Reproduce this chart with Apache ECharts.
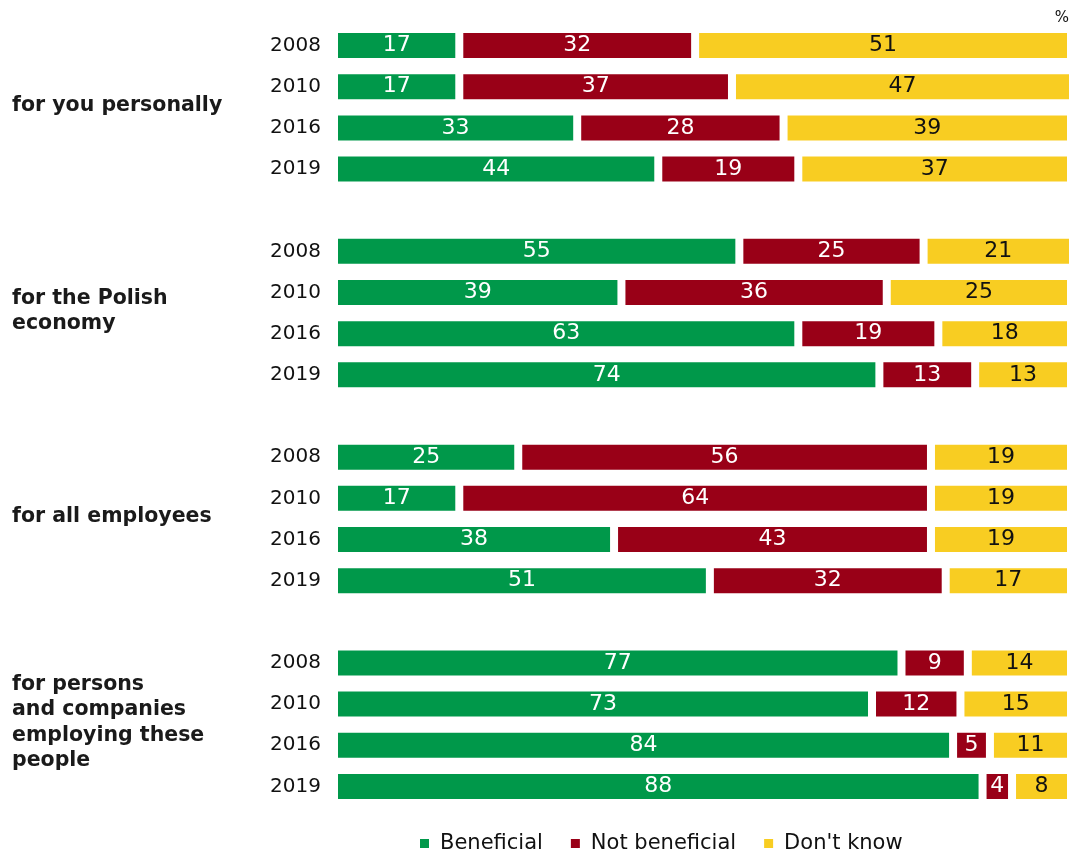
<!DOCTYPE html>
<html>
<head>
<meta charset="utf-8">
<style>html,body{margin:0;padding:0;background:#fff}#c{width:1073px;height:853px}</style>
<script src="https://cdn.jsdelivr.net/npm/echarts@6/dist/echarts.min.js"></script>
</head>
<body>
<div id="c"></div>
<script>
const years = ['2008', '2010', '2016', '2019'];
const groups = ['for you personally', 'for the Polish\neconomy', 'for all employees', 'for persons\nand companies\nemploying these\npeople'];
const beneficial    = [17, 17, 33, 44, 55, 39, 63, 74, 25, 17, 38, 51, 77, 73, 84, 88];
const notBeneficial = [32, 37, 28, 19, 25, 36, 19, 13, 56, 64, 43, 32,  9, 12,  5,  4];
const dontKnow      = [51, 47, 39, 37, 21, 25, 18, 13, 19, 19, 19, 17, 14, 15, 11,  8];
const seriesNames = ['Beneficial', 'Not beneficial', "Don't know"];

// build rows with blank spacer rows between groups
const cats = [], idx = [];
groups.forEach((g, gi) => {
  if (gi > 0) { cats.push(''); idx.push(-1); }
  years.forEach((y, yi) => { cats.push(y); idx.push(gi * years.length + yi); });
});
const mk = arr => idx.map(i => i < 0 ? '-' : arr[i]);

const colors = ['#00984a', '#990017', '#f8cd22'];
const labelColors = ['#ffffff', '#ffffff', '#111111'];
const font = 'DejaVu Sans, sans-serif';

const chart = echarts.init(document.getElementById('c'), null, {renderer: 'canvas'});
const vals = [beneficial, notBeneficial, dontKnow];
const pct = {type: 'text', right: 4, top: 11, style: {text: '%', fontSize: 15, fontFamily: font, fill: '#111'}};
chart.setOption({
  animation: false,
  grid: {left: 334, right: 2, top: 25, height: 782, containLabel: false},
  xAxis: {type: 'value', min: 0, max: 100, show: false},
  yAxis: {
    type: 'category', data: cats, inverse: true,
    axisLine: {show: false}, axisTick: {show: false}, splitLine: {show: false},
    axisLabel: {color: '#111', fontSize: 20, fontFamily: font, margin: 13}
  },
  legend: {
    data: seriesNames, top: 828, left: 413, itemGap: 26,
    itemWidth: 11, itemHeight: 11, icon: 'rect',
    textStyle: {fontSize: 21, fontFamily: font, color: '#111', padding: [0, 0, 0, 5]}
  },
  series: seriesNames.map((n, si) => ({
    name: n, type: 'bar', stack: 'all', barWidth: 33, clip: true,
    data: mk(vals[si]),
    itemStyle: {color: colors[si], borderColor: '#ffffff', borderWidth: 4},
    label: {show: true, position: 'inside', color: labelColors[si], fontSize: 22, fontFamily: font}
  })),
  graphic: [pct]
});

// group labels, vertically centred on each group's rows
const gl = [];
let rowPos = 0;
groups.forEach((name) => {
  const y1 = chart.convertToPixel({yAxisIndex: 0}, rowPos);
  const y2 = chart.convertToPixel({yAxisIndex: 0}, rowPos + years.length - 1);
  gl.push({type: 'text', x: 12, y: (y1 + y2) / 2 - 2,
    style: {text: name, fontSize: 20.5, fontWeight: 'bold', fontFamily: font,
      fill: '#1a1a1a', lineHeight: 25.5, verticalAlign: 'middle'}});
  rowPos += years.length + 1;
});
chart.setOption({graphic: [pct].concat(gl)});
</script>
</body>
</html>
